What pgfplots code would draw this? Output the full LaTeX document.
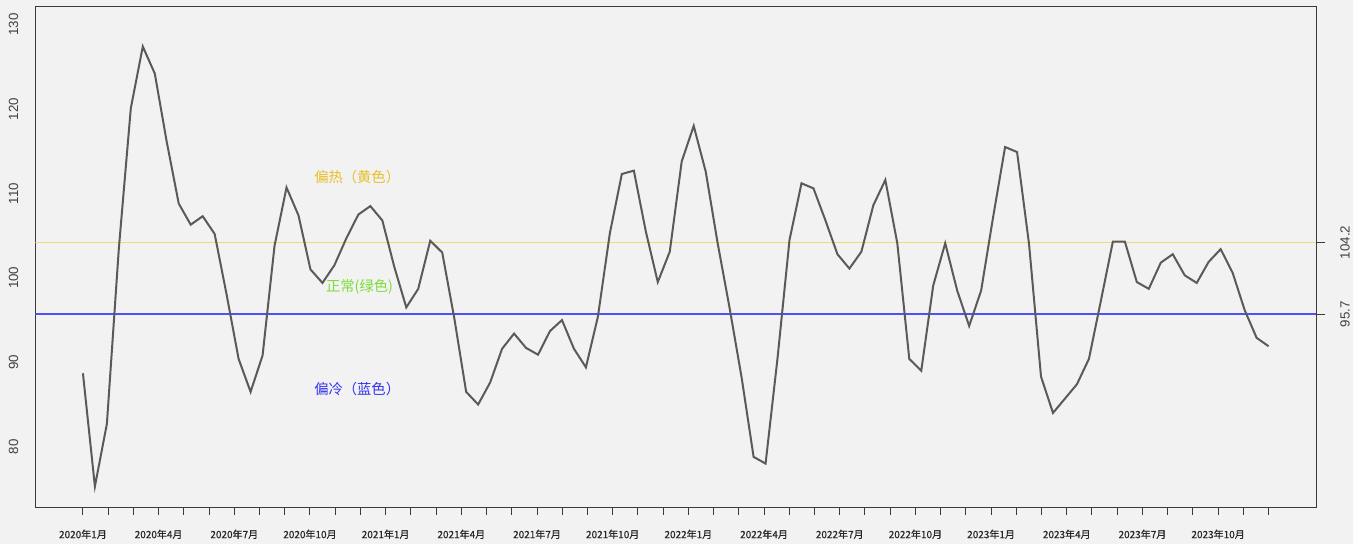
\documentclass[border=0pt]{standalone}
\usepackage{pgfplots}
\pgfplotsset{compat=1.18}
\usepackage{fontspec}
\setmainfont{Liberation Sans}
\newfontfamily\cjk{Noto Sans CJK SC}
\newfontfamily\cjkb{Noto Sans CJK SC}[FakeBold=0.6]

\definecolor{bg}{HTML}{F2F2F2}
\definecolor{boxc}{HTML}{3A3A3A}
\definecolor{serie}{HTML}{5A5A5A}
\definecolor{labc}{HTML}{404040}
\definecolor{hotline}{RGB}{240,218,120}
\definecolor{hottext}{RGB}{232,192,40}
\definecolor{oktext}{RGB}{125,220,60}
\definecolor{coldline}{RGB}{80,80,250}
\definecolor{coldtext}{RGB}{50,50,240}

\pgfplotstableread{
i v
0 88.7
1 75.3
2 82.7
3 103.5
4 120.1
5 127.4
6 124.2
7 116.1
8 108.8
9 106.3
10 107.3
11 105.2
12 98.0
13 90.4
14 86.5
15 90.8
16 103.8
17 110.7
18 107.4
19 101.0
20 99.4
21 101.5
22 104.7
23 107.5
24 108.5
25 106.8
26 101.3
27 96.5
28 98.7
29 104.4
30 103.0
31 95.3
32 86.5
33 85.0
34 87.6
35 91.6
36 93.4
37 91.7
38 90.9
39 93.7
40 95.0
41 91.6
42 89.4
43 95.4
44 105.3
45 112.3
46 112.7
47 105.5
48 99.5
49 103.1
50 113.8
51 118.0
52 112.6
53 104.1
54 96.4
55 88.2
56 78.8
57 78.0
58 90.5
59 104.5
60 111.2
61 110.6
62 106.8
63 102.8
64 101.1
65 103.1
66 108.6
67 111.6
68 104.1
69 90.4
70 89.0
71 99.1
72 104.1
73 98.5
74 94.3
75 98.5
76 107.2
77 115.5
78 114.9
79 104.0
80 88.3
81 84.0
82 85.7
83 87.4
84 90.4
85 97.3
86 104.3
87 104.3
88 99.5
89 98.7
90 101.8
91 102.8
92 100.3
93 99.4
94 101.9
95 103.4
96 100.6
97 96.2
98 92.9
99 91.9
}\climate

\begin{document}
\begin{tikzpicture}
\path[fill=bg, use as bounding box] (-35.5pt,-36.5pt) rectangle (1317.5pt,507.5pt);
\begin{axis}[
  at={(0pt,0pt)}, anchor=south west,
  scale only axis, width=1280.5pt, height=501.5pt,
  xmin=-3.96, xmax=102.96, ymin=72.8, ymax=132.2,
  axis background/.style={fill=bg},
  axis line style={boxc, line width=1pt},
  /pgf/number format/assume math mode=true,
  ytick={80,90,100,110,120,130},
  ytick style={draw=none},
  ytick pos=left,
  yticklabel style={font=\fontsize{13.3}{15}\selectfont, text=labc, rotate=90, anchor=south, inner sep=0pt},
  yticklabel shift=10pt,
  xtick={0,2.1064,4.2128,6.3191,8.4255,10.5319,12.6383,14.7447,16.8511,18.9574,21.0638,23.1702,25.2766,27.3830,29.4894,31.5957,33.7021,35.8085,37.9149,40.0213,42.1277,44.2340,46.3404,48.4468,50.5532,52.6596,54.7660,56.8723,58.9787,61.0851,63.1915,65.2979,67.4043,69.5106,71.6170,73.7234,75.8298,77.9362,80.0426,82.1489,84.2553,86.3617,88.4681,90.5745,92.6809,94.7872,96.8936,99},
  xticklabels={2020年1月,,,2020年4月,,,2020年7月,,,2020年10月,,,2021年1月,,,2021年4月,,,2021年7月,,,2021年10月,,,2022年1月,,,2022年4月,,,2022年7月,,,2022年10月,,,2023年1月,,,2023年4月,,,2023年7月,,,2023年10月,,},
  xtick pos=bottom,
  tick align=outside,
  major tick length=7pt,
  xtick style={boxc, line width=1pt},
  xticklabel style={font=\cjkb\fontsize{10}{12}\selectfont, text=black!85, anchor=north, inner sep=0pt},
  xticklabel shift=15pt,
]
\addplot[hotline, line width=1.5pt] coordinates {(-3.96,104.2) (102.96,104.2)};
\addplot[coldline, line width=1.5pt] coordinates {(-3.96,95.7) (102.96,95.7)};
\addplot[serie, line width=2pt] table[x=i, y=v] {\climate};
\node[text=hottext, font=\cjk\fontsize{14.3}{16}\selectfont] at (axis cs:22.9,111.9) {偏热（黄色）};
\node[text=oktext, font=\cjk\fontsize{14.3}{16}\selectfont] at (axis cs:23.1,98.9) {正常(绿色)};
\node[text=coldtext, font=\cjk\fontsize{14.3}{16}\selectfont] at (axis cs:22.9,86.8) {偏冷（蓝色）};
\end{axis}
\begin{axis}[
  at={(0pt,0pt)}, anchor=south west,
  scale only axis, width=1280.5pt, height=501.5pt,
  xmin=-3.96, xmax=102.96, ymin=72.8, ymax=132.2,
  axis x line=none,
  axis y line*=right,
  axis line style={boxc, line width=1pt},
  /pgf/number format/assume math mode=true,
  ytick={95.7,104.2},
  yticklabels={95.7,104.2},
  tick align=outside,
  major tick length=9pt,
  ytick style={boxc, line width=1pt},
  yticklabel style={font=\fontsize{13.3}{15}\selectfont, text=labc, rotate=90, anchor=north, inner sep=0pt},
  yticklabel shift=15pt,
]
\end{axis}
\end{tikzpicture}
\end{document}
